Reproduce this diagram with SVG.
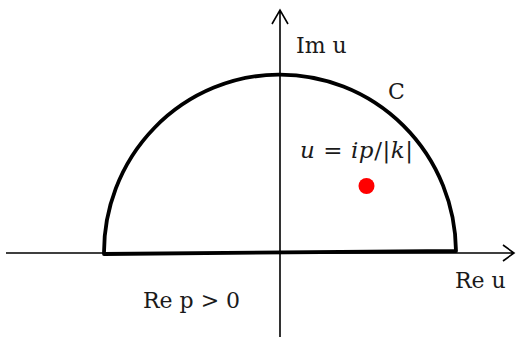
<svg xmlns="http://www.w3.org/2000/svg" width="516" height="340" viewBox="0 0 516 340">
<style>
.ax{stroke:#000;stroke-width:1.6;fill:none}
.c{stroke:#000;stroke-width:3.8;fill:none;stroke-linejoin:round}
.t{font-family:"DejaVu Serif","Liberation Serif",serif;font-size:22px;fill:#1a1a1a}
.m{font-family:"DejaVu Serif","Liberation Serif",serif;font-size:23px;font-style:italic;fill:#1a1a1a}
</style>
<rect width="516" height="340" fill="#fff"/>
<g id="connectors">
<path class="ax" d="M6 253 H514 M503 245 L514 253 L503 261"/>
<path class="ax" d="M280 337 V10 M272 24 L280 10 L288 24"/>
</g>
<g id="contour">
<path class="c" d="M104 254 A176 178 0 0 1 456 251 Z"/>
</g>
<g id="pole">
<circle cx="366.5" cy="186" r="8" fill="#ff0000"/>
</g>
<g id="labels">
<text class="t" x="296" y="53">Im u</text>
<text class="t" x="388" y="99">C</text>
<text class="t" x="455" y="288">Re u</text>
<text class="t" x="143" y="308">Re p &gt; 0</text>
<text class="m" x="300" y="158" textLength="113" lengthAdjust="spacing">u <tspan font-style="normal">=</tspan> ip<tspan font-style="normal">/|</tspan>k<tspan font-style="normal">|</tspan></text>
</g>
</svg>
